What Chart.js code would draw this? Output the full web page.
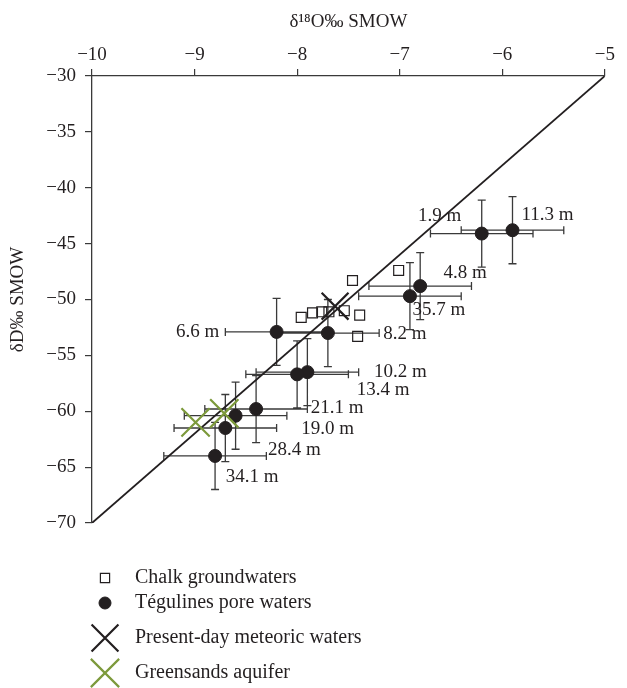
<!DOCTYPE html>
<html>
<head>
<meta charset="utf-8">
<script src="https://cdn.jsdelivr.net/npm/chart.js@4.4.1/dist/chart.umd.min.js"></script>
<style>
  html, body { margin: 0; padding: 0; background: #fff; }
  #wrap { width: 627px; height: 688px; }
</style>
</head>
<body>
<div id="wrap"><canvas id="isoChart"></canvas></div>
<script>
// Tégulines pore waters (δ18O, δD, errors, depth labels)
const tegulinesO = [-6.2, -5.9, -6.8, -6.9, -8.2, -7.7, -7.9, -8.0, -8.4, -8.6, -8.7, -8.8];
const tegulinesD = [-44.1, -43.8, -48.8, -49.7, -52.9, -53.0, -56.5, -56.7, -59.8, -60.4, -61.5, -64.0];
const tegulinesErrO = [0.5, 0.5, 0.5, 0.5, 0.5, 0.5, 0.5, 0.5, 0.5, 0.5, 0.5, 0.5];
const tegulinesErrD = [3, 3, 3, 3, 3, 3, 3, 3, 3, 3, 3, 3];
const depthLabels = ['1.9 m', '11.3 m', '4.8 m', '35.7 m', '6.6 m', '8.2 m', '10.2 m', '13.4 m', '21.1 m', '19.0 m', '28.4 m', '34.1 m'];

// Chalk groundwaters
const chalkO = [-7.01, -7.46, -7.96, -7.85, -7.76, -7.69, -7.54, -7.39, -7.41];
const chalkD = [-47.4, -48.3, -51.6, -51.2, -51.1, -51.1, -51.0, -51.4, -53.3];

// Present-day meteoric waters / Greensands aquifer
const meteoricO = [-7.63];
const meteoricD = [-50.6];
const greensandsO = [-8.99, -8.71];
const greensandsD = [-61.0, -60.2];

// meteoric water line end points
const lineO = [-10, -5];
const lineD = [-70, -30];

// axis ranges
const xMin = -10, xMax = -5, xStep = 1;
const yMin = -70, yMax = -30, yStep = 5;

// label placement (pixel offsets from each point)
const labelOffsets = [[-42, -18], [35, -15], [45, -13], [29, 14], [-79, 0], [77, 1],
                      [93, 0], [86, 16], [81, -1], [92, 13], [69, 22], [37, 21]];
const legendRows = [578, 603, 638, 673];

const ink = '#231f20';
const green = '#7d9a3c';
const FONT = "'Liberation Serif', 'DejaVu Serif', serif";

const pts = (xs, ys) => xs.map((v, i) => ({ x: v, y: ys[i] }));
const minus = v => String(v).replace('-', '\u2212');

Chart.defaults.font.family = FONT;
Chart.defaults.color = ink;

const errorBars = {
    id: 'errorBars',
    beforeDatasetsDraw(chart) {
        const { ctx, scales: { x, y } } = chart;
        const cap = 4;
        ctx.save();
        ctx.strokeStyle = '#3a3a3a';
        ctx.lineWidth = 1.3;
        ctx.beginPath();
        tegulinesO.forEach((o, i) => {
            const d = tegulinesD[i];
            const px = x.getPixelForValue(o), py = y.getPixelForValue(d);
            const x0 = x.getPixelForValue(o - tegulinesErrO[i]);
            const x1 = x.getPixelForValue(o + tegulinesErrO[i]);
            const y0 = y.getPixelForValue(d + tegulinesErrD[i]);
            const y1 = y.getPixelForValue(d - tegulinesErrD[i]);
            ctx.moveTo(x0, py); ctx.lineTo(x1, py);
            ctx.moveTo(x0, py - cap); ctx.lineTo(x0, py + cap);
            ctx.moveTo(x1, py - cap); ctx.lineTo(x1, py + cap);
            ctx.moveTo(px, y0); ctx.lineTo(px, y1);
            ctx.moveTo(px - cap, y0); ctx.lineTo(px + cap, y0);
            ctx.moveTo(px - cap, y1); ctx.lineTo(px + cap, y1);
        });
        ctx.stroke();
        ctx.restore();
    }
};

const depthText = {
    id: 'depthText',
    afterDatasetsDraw(chart) {
        const { ctx, scales: { x, y } } = chart;
        ctx.save();
        ctx.font = '19px ' + FONT;
        ctx.fillStyle = ink;
        ctx.textAlign = 'center';
        ctx.textBaseline = 'middle';
        depthLabels.forEach((t, i) => {
            const px = x.getPixelForValue(tegulinesO[i]) + labelOffsets[i][0];
            const py = y.getPixelForValue(tegulinesD[i]) + labelOffsets[i][1];
            ctx.fillText(t, px, py);
        });
        ctx.restore();
    }
};

const sideLegend = {
    id: 'sideLegend',
    afterDraw(chart) {
        const ctx = chart.ctx;
        const items = chart.data.datasets.filter(ds => ds.label);
        ctx.save();
        ctx.font = '20px ' + FONT;
        ctx.textBaseline = 'middle';
        items.forEach((ds, i) => {
            const yy = legendRows[i];
            ctx.fillStyle = ds.backgroundColor;
            ctx.strokeStyle = ds.borderColor;
            ctx.lineWidth = ds.borderWidth;
            Chart.helpers.drawPoint(ctx, {
                pointStyle: ds.pointStyle,
                radius: ds.legendRadius,
                rotation: 0,
                borderWidth: ds.borderWidth
            }, 105, yy);
            ctx.fillStyle = ink;
            ctx.fillText(ds.label, 135, yy);
        });
        ctx.restore();
    }
};

new Chart(document.getElementById('isoChart'), {
    type: 'scatter',
    data: {
        datasets: [
            {
                label: 'Chalk groundwaters',
                data: pts(chalkO, chalkD),
                pointStyle: 'rect',
                pointRadius: 7,
                legendRadius: 6.5,
                backgroundColor: 'rgba(255,255,255,0)',
                borderColor: ink,
                borderWidth: 1.2,
                order: 3
            },
            {
                label: 'Tégulines pore waters',
                data: pts(tegulinesO, tegulinesD),
                pointStyle: 'circle',
                pointRadius: 6.5,
                legendRadius: 6,
                backgroundColor: ink,
                borderColor: ink,
                borderWidth: 1,
                order: 2
            },
            {
                label: 'Present-day meteoric waters',
                data: pts(meteoricO, meteoricD),
                pointStyle: 'crossRot',
                pointRadius: 19,
                legendRadius: 19,
                backgroundColor: ink,
                borderColor: ink,
                borderWidth: 2.2,
                order: 1
            },
            {
                label: 'Greensands aquifer',
                data: pts(greensandsO, greensandsD),
                pointStyle: 'crossRot',
                pointRadius: 20,
                legendRadius: 20,
                backgroundColor: green,
                borderColor: green,
                borderWidth: 2.2,
                order: 0
            },
            {
                type: 'line',
                data: pts(lineO, lineD),
                borderColor: ink,
                borderWidth: 1.8,
                pointRadius: 0,
                fill: false,
                order: 4
            }
        ]
    },
    options: {
        responsive: true,
        maintainAspectRatio: false,
        animation: false,
        layout: { padding: { left: 0, right: 12, top: 0, bottom: 165 } },
        plugins: {
            legend: { display: false },
            tooltip: { enabled: false }
        },
        scales: {
            x: {
                type: 'linear',
                position: 'top',
                min: xMin,
                max: xMax,
                ticks: { stepSize: xStep, callback: minus, font: { size: 19 }, color: ink, padding: 3, maxRotation: 0 },
                grid: { drawOnChartArea: false, tickLength: 7, color: '#3a3a3a', lineWidth: 1.2 },
                border: { color: '#3a3a3a', width: 1.3 },
                title: { display: true, text: 'δ¹⁸O‰ SMOW', font: { size: 19 }, color: ink, padding: { top: 11, bottom: 4 } },
                afterFit: s => { s.height = 76; }
            },
            y: {
                min: yMin,
                max: yMax,
                ticks: { stepSize: yStep, callback: minus, font: { size: 19 }, color: ink, padding: 9 },
                grid: { drawOnChartArea: false, tickLength: 7, color: '#3a3a3a', lineWidth: 1.2 },
                border: { color: '#3a3a3a', width: 1.3 },
                title: { display: true, text: 'δD‰ SMOW', font: { size: 19 }, color: ink, padding: { top: 7, bottom: 4 } },
                afterFit: s => { s.width = 92; }
            }
        }
    },
    plugins: [errorBars, depthText, sideLegend]
});
</script>
</body>
</html>
